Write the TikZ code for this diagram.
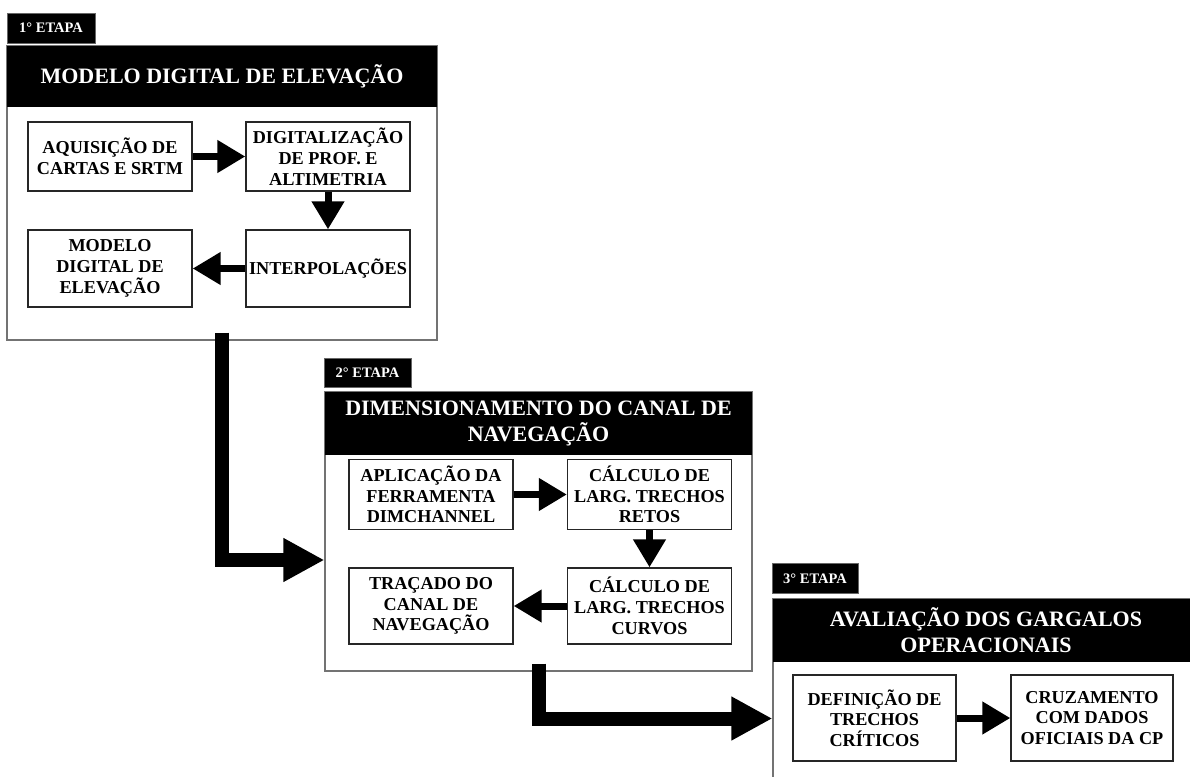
\documentclass[tikz,border=0pt]{standalone}
\usepackage{fontspec}
\setmainfont{Liberation Serif}
\usetikzlibrary{arrows.meta}

\newcommand\stepboxfont{\bfseries\fontsize{18.2}{20.7}\selectfont}
\newcommand\stageheadfont{\bfseries\fontsize{22}{26}\selectfont}
\newcommand\stagetagfont{\bfseries\fontsize{14.5}{16}\selectfont}

\tikzset{
  stageframe/.style={draw=black!55, line width=1.2pt, fill=white, inner sep=0pt},
  stagehead/.style={fill=black, text=white, inner sep=0pt, align=center, font=\stageheadfont},
  stagetag/.style={fill=black, draw=black!60, line width=0.6pt, text=white, inner sep=0pt, font=\stagetagfont},
  stepbox/.style={draw=black!85, line width=1.2pt, fill=white, inner sep=0pt, align=center, font=\stepboxfont},
  flow/.style={line width=7pt, -{Triangle[length=28pt,width=31pt]}},
  bigflow/.style={line width=14pt, line join=miter, -{Triangle[length=41pt,width=41pt]}},
}

\begin{document}
\begin{tikzpicture}[x=1pt,y=-1pt]
  \useasboundingbox (0,0) rectangle (1190,776);
  \clip (0,0) rectangle (1190,776);

  % ---------- stage 1: digital elevation model ----------
  \node[stageframe, minimum width=430pt, minimum height=294pt] (s1) at (222,193) {};
  \node[stagehead, minimum width=430pt, minimum height=61pt] (h1) at (222,76.5)
    {MODELO DIGITAL DE ELEVAÇÃO};
  \node[stagetag, minimum width=88pt, minimum height=30pt] (t1) at (51,28) {1° ETAPA};

  \node[stepbox, minimum width=164pt, minimum height=69pt] (a1) at (110,156.5)
    {AQUISIÇÃO DE\\CARTAS E SRTM};
  \node[stepbox, minimum width=164pt, minimum height=69pt] (a2) at (328,156.5)
    {DIGITALIZAÇÃO\\DE PROF. E\\ALTIMETRIA};
  \node[stepbox, minimum width=164pt, minimum height=77pt] (a3) at (110,268.5)
    {MODELO\\DIGITAL DE\\ELEVAÇÃO};
  \node[stepbox, minimum width=164pt, minimum height=77pt] (a4) at (328,268.5)
    {INTERPOLAÇÕES};

  \draw[flow] (a1.east) -- (a2.west);
  \draw[flow] (a2.south) -- (a4.north);
  \draw[flow] (a4.west) -- (a3.east);

  % ---------- stage 2: navigation channel sizing ----------
  \node[stageframe, minimum width=427pt, minimum height=279pt] (s2) at (538.5,531.5) {};
  \node[stagehead, minimum width=427pt, minimum height=63pt] (h2) at (538.5,423.5)
    {DIMENSIONAMENTO DO CANAL DE\\NAVEGAÇÃO};
  \node[stagetag, minimum width=87pt, minimum height=29pt] (t2) at (367.5,372.5) {2° ETAPA};

  \node[stepbox, minimum width=164pt, minimum height=70pt] (b1) at (431,494.5)
    {APLICAÇÃO DA\\FERRAMENTA\\DIMCHANNEL};
  \node[stepbox, minimum width=164pt, minimum height=70pt] (b2) at (649.5,494.5)
    {CÁLCULO DE\\LARG. TRECHOS\\RETOS};
  \node[stepbox, minimum width=164pt, minimum height=76pt] (b3) at (431,606)
    {TRAÇADO DO\\CANAL DE\\NAVEGAÇÃO};
  \node[stepbox, minimum width=164pt, minimum height=76pt] (b4) at (649.5,606)
    {CÁLCULO DE\\LARG. TRECHOS\\CURVOS};

  \draw[flow] (b1.east) -- (b2.west);
  \draw[flow] (b2.south) -- (b4.north);
  \draw[flow] (b4.west) -- (b3.east);

  % ---------- stage 3: operational bottlenecks ----------
  \node[stageframe, minimum width=426pt, minimum height=201pt] (s3) at (986,699.5) {};
  \node[stagehead, minimum width=426pt, minimum height=63pt] (h3) at (986,630.5)
    {AVALIAÇÃO DOS GARGALOS\\OPERACIONAIS};
  \node[stagetag, minimum width=86pt, minimum height=30pt] (t3) at (815,578.5) {3° ETAPA};

  \node[stepbox, minimum width=163pt, minimum height=86pt] (c1) at (874.5,718)
    {DEFINIÇÃO DE\\TRECHOS\\CRÍTICOS};
  \node[stepbox, minimum width=162pt, minimum height=86pt] (c2) at (1092,718)
    {CRUZAMENTO\\COM DADOS\\OFICIAIS DA CP};

  \draw[flow] (c1.east) -- (c2.west);

  % ---------- links between stages ----------
  \coordinate (in2) at (0,560);
  \coordinate (in3) at (0,718.5);
  \draw[bigflow] ([yshift=8pt]s1.south) |- (s2.west |- in2);
  \draw[bigflow] ([yshift=8pt]s2.south) |- (s3.west |- in3);
\end{tikzpicture}
\end{document}
